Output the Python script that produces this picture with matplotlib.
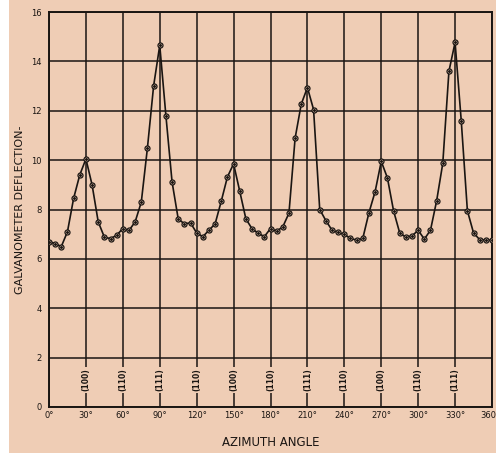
import matplotlib
matplotlib.use("Agg")
import matplotlib.pyplot as plt
import matplotlib.transforms as mtransforms
from matplotlib.patches import Rectangle

# ---- data ------------------------------------------------------------------ #
azimuth = [0, 5, 10, 15, 20, 25, 30, 35, 40, 45, 50, 55, 60, 65, 70, 75,
           80, 85, 90, 95, 100, 105, 110, 115, 120, 125, 130, 135, 140, 145,
           150, 155, 160, 165, 170, 175, 180, 185, 190, 195, 200, 205, 210,
           215, 220, 225, 230, 235, 240, 245, 250, 255, 260, 265, 270, 275,
           280, 285, 290, 295, 300, 305, 310, 315, 320, 325, 330, 335, 340,
           345, 350, 355, 360]
deflection = [6.7, 6.62, 6.5, 7.1, 8.45, 9.4, 10.05, 9.0, 7.5, 6.88, 6.82,
              6.96, 7.23, 7.15, 7.5, 8.3, 10.5, 13.0, 14.65, 11.8, 9.12,
              7.62, 7.42, 7.46, 7.05, 6.9, 7.16, 7.42, 8.34, 9.32, 9.85,
              8.74, 7.62, 7.22, 7.04, 6.9, 7.23, 7.12, 7.3, 7.85, 10.89,
              12.27, 12.94, 12.05, 8.0, 7.55, 7.16, 7.07, 6.99, 6.83, 6.76,
              6.83, 7.87, 8.72, 9.95, 9.28, 7.95, 7.05, 6.88, 6.93, 7.16,
              6.8, 7.16, 8.35, 9.87, 13.6, 14.77, 11.6, 7.95, 7.05, 6.78,
              6.76, 6.76]

planes_at = [30, 60, 90, 120, 150, 180, 210, 240, 270, 300, 330]
planes = ["(100)", "(110)", "(111)", "(110)", "(100)", "(110)",
          "(111)", "(110)", "(100)", "(110)", "(111)"]

xticks = list(range(0, 361, 30))
xticklabels = [f"{t}°" for t in xticks[:-1]] + ["360"]
yticks = list(range(0, 17, 2))

PAPER = "#EFCDB5"
INK = "#1a1512"

fig = plt.figure(figsize=(4.96, 4.53), dpi=100, facecolor=PAPER)
# white strip of the scan along the left edge
fig.patches.append(Rectangle((0, 0), 9 / 496, 1, transform=fig.transFigure,
                             facecolor="white", edgecolor="none", zorder=0))
ax = fig.add_axes([49 / 496, 46 / 453, 443 / 496, 395 / 453])
ax.set_facecolor(PAPER)

ax.set_xlim(0, 360)
ax.set_ylim(0, 16)
ax.set_xticks(xticks)
ax.set_xticklabels(xticklabels, fontsize=6, color=INK)
ax.set_yticks(yticks)
ax.set_yticklabels([str(t) for t in yticks], fontsize=6, color=INK)
ax.tick_params(length=0, pad=3)
ax.tick_params(axis="y", pad=5)
# last label sits on the right edge of the sheet; pull it in a little
last = ax.get_xticklabels()[-1]
last.set_transform(last.get_transform() + mtransforms.ScaledTranslation(
    -4 / 100, 0, fig.dpi_scale_trans))
ax.grid(True, color=INK, lw=1.1)
for s in ax.spines.values():
    s.set_color(INK)
    s.set_linewidth(1.4)

# crystal-plane labels sitting on the vertical grid lines
for x, lab in zip(planes_at, planes):
    ax.text(x, 1.1, lab, rotation=90, ha="center", va="center", fontsize=5.5,
            color=INK, fontweight="bold",
            bbox=dict(facecolor=PAPER, edgecolor="none", pad=1.0))

ax.plot(azimuth, deflection, color=INK, lw=1.2, marker="o", ms=3.6,
        mfc=PAPER, mec=INK, mew=0.9, zorder=3)
ax.plot(azimuth, deflection, ls="none", marker="o", ms=1.1, color=INK,
        zorder=4)

fig.text(20 / 496, 1 - 210 / 453, "GALVANOMETER DEFLECTION-", rotation=90,
         ha="center", va="center", fontsize=8, color=INK)
fig.text(271 / 496, 1 - 442 / 453, "AZIMUTH ANGLE", ha="center",
         va="center", fontsize=8.5, color=INK)

fig.savefig("out.png", dpi=100, facecolor=PAPER)
